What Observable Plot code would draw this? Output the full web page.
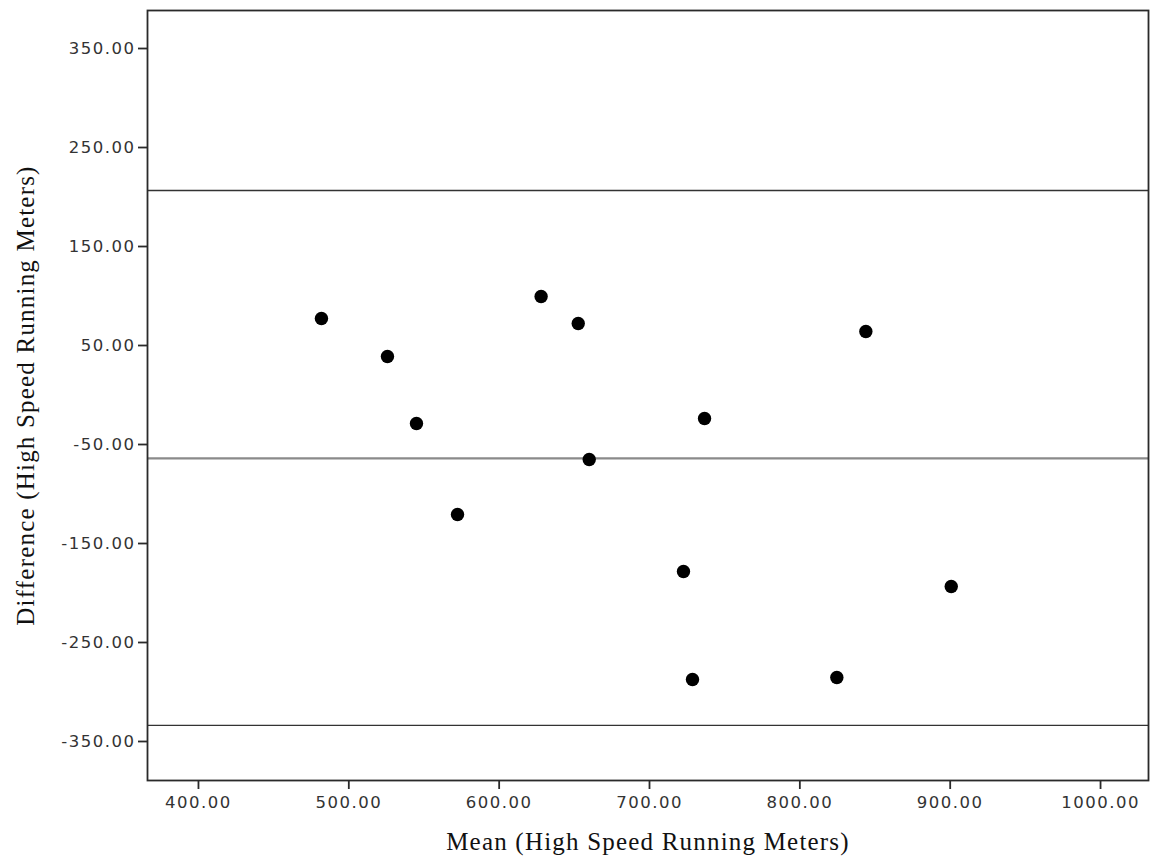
<!DOCTYPE html>
<html>
<head>
<meta charset="utf-8">
<script src="https://cdn.jsdelivr.net/npm/d3@7"></script>
<script src="https://cdn.jsdelivr.net/npm/@observablehq/plot@0.6"></script>
<style>
  html, body { margin: 0; padding: 0; background: #fff; }
  #chart svg { display: block; }
  g[aria-label="x-axis tick label"] text, g[aria-label="y-axis tick label"] text {
    font-family: "DejaVu Sans", sans-serif !important; font-size: 16.5px !important; letter-spacing: 1.5px;
  }
  g[aria-label="text"] text { letter-spacing: 1.2px; }
</style>
</head>
<body>
<div id="chart"></div>
<script>
// Data (Bland–Altman plot)
const means = [481.8, 525.7, 545.0, 572.3, 627.9, 652.6, 659.9, 736.6, 722.6, 728.6, 824.6, 843.9, 900.7];
const diffs = [77.3, 38.9, -28.8, -120.7, 99.5, 72.2, -65.2, -23.7, -178.3, -287.4, -285.4, 64.1, -193.4];
const meanDiff = [-64.1];
const limits = [206.6, -333.8];
const xTicks = [400, 500, 600, 700, 800, 900, 1000];
const yTicks = [350, 250, 150, 50, -50, -150, -250, -350];
const xTitle = "Mean (High Speed Running Meters)";
const yTitle = "Difference (High Speed Running Meters)";

const points = means.map((m, i) => ({mean: m, diff: diffs[i]}));
const fmt = d => d.toFixed(2);

const chart = Plot.plot({
  width: 1150,
  height: 863,
  marginLeft: 147,
  marginRight: 2,
  marginTop: 10,
  marginBottom: 83,
  style: {background: "#fff"},
  x: {domain: [366.1, 1031.9]},
  y: {domain: [-389.4, 388.4]},
  marks: [
    Plot.ruleY(limits, {stroke: "#333", strokeWidth: 1.3}),
    Plot.ruleY(meanDiff, {stroke: "#8a8a8a", strokeWidth: 2.2}),
    Plot.dot(points, {x: "mean", y: "diff", r: 6.7, fill: "#000", stroke: "none"}),
    Plot.frame({stroke: "#2a2a2a", strokeWidth: 1.8}),
    Plot.axisX(xTicks, {tickFormat: fmt, tickSize: 9, tickPadding: 7, stroke: "#2a2a2a", strokeWidth: 1.8, fill: "#333",
      fontSize: 16, label: null}),
    Plot.axisY(yTicks, {tickFormat: fmt, tickSize: 9, tickPadding: 3, stroke: "#2a2a2a", strokeWidth: 1.8, fill: "#333",
      fontSize: 16, label: null}),
    Plot.text([xTitle], {text: d => d, frameAnchor: "bottom", lineAnchor: "top", dy: 52,
      fontFamily: "Liberation Serif", fontSize: 25, fill: "#111"}),
    Plot.text([yTitle], {text: d => d, frameAnchor: "left", textAnchor: "middle", lineAnchor: "bottom", rotate: -90, dx: -114,
      fontFamily: "Liberation Serif", fontSize: 25, fill: "#111"})
  ]
});
document.getElementById("chart").appendChild(chart);
</script>
</body>
</html>
